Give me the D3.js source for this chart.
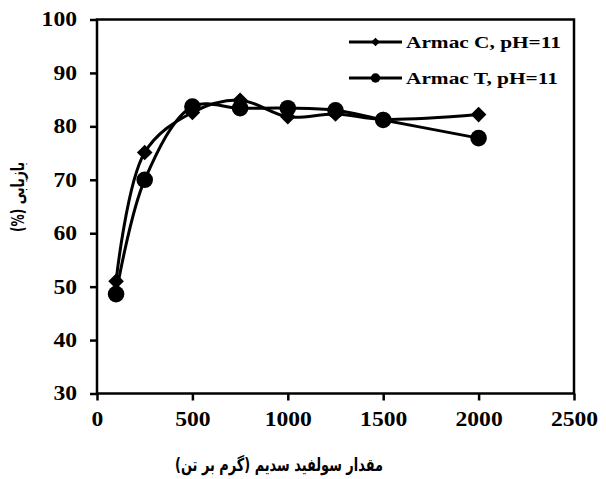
<!DOCTYPE html>
<html lang="fa">
<head>
    <meta charset="UTF-8">
    <title>Armac recovery vs sodium sulfide</title>
    <script src="https://d3js.org/d3.v7.min.js"></script>
    <style>
        body { margin: 0; background: #fff; }
        text { font-family: "Liberation Serif", "DejaVu Serif", serif; font-weight: 700; fill: #000; }
        .fa { font-family: "DejaVu Sans", "Noto Sans", sans-serif; font-weight: 700; }
    </style>
</head>
<body>
</body>
<script>
    // data
    const dosage = [100, 250, 500, 750, 1000, 1250, 1500, 2000];
    const armacC = [51, 75.1, 82.6, 84.9, 81.8, 82.3, 81.3, 82.2];
    const armacT = [48.6, 70, 83.7, 83.4, 83.4, 83.0, 81.2, 77.8];
    const seriesNames = ["Armac C, pH=11", "Armac T, pH=11"];
    const xTicks = [0, 500, 1000, 1500, 2000, 2500];
    const yTicks = [30, 40, 50, 60, 70, 80, 90, 100];
    const xTitle = "مقدار سولفید سدیم (گرم بر تن)";
    const yTitle = "بازیابی (%)";

    const WIDTH = 606, HEIGHT = 479;
    const margin = {left: 97, right: 32, top: 19.5, bottom: 85.5};
    const STRETCH = 1.18; // the figure's text is a bit wide

    let svg = d3.select("body").append("svg").attr("width", WIDTH).attr("height", HEIGHT);

    let x = d3.scaleLinear().domain([0, 2500]).range([margin.left, WIDTH - margin.right]);
    let y = d3.scaleLinear().domain([30, 100]).range([HEIGHT - margin.bottom, margin.top]);

    // frame
    svg.append("rect")
        .attr("x", x(0)).attr("y", y(100))
        .attr("width", x(2500) - x(0)).attr("height", y(30) - y(100))
        .style("fill", "none").style("stroke", "black").style("stroke-width", 2.5);

    let xAxis = svg.append("g").attr("transform", `translate(0,${y(30)})`)
        .call(d3.axisBottom(x).tickValues(xTicks).tickSize(7).tickPadding(11).tickFormat(d3.format("d")));
    let yAxis = svg.append("g").attr("transform", `translate(${x(0)},0)`)
        .call(d3.axisLeft(y).tickValues(yTicks).tickSize(7).tickPadding(13).tickFormat(d3.format("d")));
    [xAxis, yAxis].forEach(g => {
        g.attr("font-family", null).attr("font-size", null);
        g.select(".domain").remove();
        g.selectAll("line").style("stroke", "black").style("stroke-width", 2.5);
        g.selectAll("text").style("font-size", "20px").attr("transform", `scale(${STRETCH},1)`);
    });
    yAxis.selectAll("text").attr("x", -20 / STRETCH);

    const line = d3.line().x(d => x(d[0])).y(d => y(d[1])).curve(d3.curveCatmullRom.alpha(0.5));
    const series = [
        {name: seriesNames[0], values: armacC, marker: "diamond"},
        {name: seriesNames[1], values: armacT, marker: "circle"}
    ];

    function drawMarker(g, kind, cx, cy, big) {
        if (kind === "circle") {
            g.append("circle").attr("cx", cx).attr("cy", cy).attr("r", big ? 8.3 : 4.7).style("fill", "black");
        } else {
            let h = big ? 7.8 : 4.3;
            g.append("path").attr("d", `M0,${-h}L${h},0L0,${h}L${-h},0Z`)
                .attr("transform", `translate(${cx},${cy})`).style("fill", "black");
        }
    }

    series.forEach(s => {
        let pts = dosage.map((d, i) => [d, s.values[i]]);
        svg.append("path").attr("d", line(pts))
            .style("fill", "none").style("stroke", "black").style("stroke-width", 3);
        let g = svg.append("g");
        pts.forEach(p => drawMarker(g, s.marker, x(p[0]), y(p[1]), true));
    });

    // legend
    series.forEach((s, i) => {
        let ly = 42 + i * 36;
        svg.append("line").attr("x1", 349).attr("x2", 402).attr("y1", ly).attr("y2", ly)
            .style("stroke", "black").style("stroke-width", 3);
        drawMarker(svg, s.marker, 375.5, ly, false);
        let t = svg.append("text").attr("x", 406).attr("y", ly + 6)
            .style("font-size", "17px").text(s.name);
        let w = t.node().getComputedTextLength();
        let k = (i === 0 ? 155 : 152) / w;
        t.attr("x", 406 / k).attr("transform", `scale(${k},1)`);
    });

    // titles (Persian)
    let xt = svg.append("text").attr("class", "fa").attr("x", 0).attr("y", 0)
        .attr("text-anchor", "middle").style("font-size", "18px").attr("direction", "rtl").text(xTitle);
    xt.attr("transform", `translate(279,471) scale(${208 / xt.node().getComputedTextLength()},1)`);
    let yt = svg.append("text").attr("class", "fa").attr("x", 0).attr("y", 0)
        .attr("text-anchor", "middle").style("font-size", "18px").attr("direction", "rtl").text(yTitle);
    yt.attr("transform", `translate(24,197) rotate(-90) scale(${70 / yt.node().getComputedTextLength()},1)`);
</script>
</html>
